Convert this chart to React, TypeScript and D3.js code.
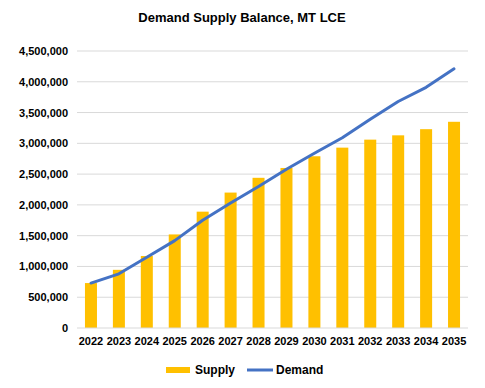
import React from 'react'
import * as d3 from 'd3'

const years = ['2022', '2023', '2024', '2025', '2026', '2027', '2028', '2029', '2030', '2031', '2032', '2033', '2034', '2035']
const supply = [730000, 945000, 1170000, 1520000, 1890000, 2200000, 2440000, 2600000, 2790000, 2930000, 3060000, 3130000, 3230000, 3350000]
const demand = [730000, 880000, 1150000, 1420000, 1750000, 2030000, 2300000, 2580000, 2840000, 3090000, 3390000, 3680000, 3910000, 4210000]
const yTicks = [0, 500000, 1000000, 1500000, 2000000, 2500000, 3000000, 3500000, 4000000, 4500000]

const width = 485
const height = 388
const margin = { top: 51, right: 17, bottom: 60, left: 77 }
const font = 'Liberation Sans, Arial, sans-serif'

const App: React.FunctionComponent = () => {
  const x = d3
    .scaleBand()
    .domain(years)
    .range([margin.left, width - margin.right])
    .paddingInner(0.57)
    .paddingOuter(0.285)

  const band = d3.scaleBand().domain(years).range([margin.left, width - margin.right])

  const y = d3
    .scaleLinear()
    .domain([0, 4500000])
    .range([height - margin.bottom, margin.top])

  const line = d3
    .line<number>()
    .x((d, i) => (band(years[i]) || 0) + band.bandwidth() / 2)
    .y(d => y(d))

  const fmt = d3.format(',')

  return (
    <svg
      width={width}
      height={height}
      style={{ position: 'absolute', left: 0, top: 0, background: '#fff' }}
      fontFamily={font}
    >
      <text x={242} y={22} textAnchor="middle" fontSize={13} fontWeight="bold" fill="#000">
        Demand Supply Balance, MT LCE
      </text>

      {yTicks.map(t => (
        <g key={t}>
          {t > 0 && (
            <line x1={margin.left} x2={width - margin.right} y1={y(t)} y2={y(t)} stroke="#d9d9d9" strokeWidth={1} />
          )}
          <text x={68} y={y(t) + 4} textAnchor="end" fontSize={11} fontWeight="bold" fill="#000">
            {fmt(t)}
          </text>
        </g>
      ))}

      {years.map((yr, i) => (
        <rect
          key={yr}
          x={x(yr)}
          y={y(supply[i])}
          width={x.bandwidth()}
          height={y(0) - y(supply[i])}
          fill="#ffc000"
        />
      ))}

      <line x1={margin.left} x2={width - margin.right} y1={y(0)} y2={y(0)} stroke="#d9d9d9" strokeWidth={1} />

      {years.map(yr => (
        <text
          key={yr}
          x={(band(yr) || 0) + band.bandwidth() / 2}
          y={345}
          textAnchor="middle"
          fontSize={11}
          fontWeight="bold"
          fill="#000"
        >
          {yr}
        </text>
      ))}

      <path d={line(demand) || ''} fill="none" stroke="#4472c4" strokeWidth={3} strokeLinejoin="round" strokeLinecap="round" />

      <g>
        <rect x={166} y={367} width={24} height={6} fill="#ffc000" />
        <text x={195} y={374} fontSize={12} fontWeight="bold" fill="#000">
          Supply
        </text>
        <line x1={247} x2={273} y1={370} y2={370} stroke="#4472c4" strokeWidth={3} />
        <text x={276} y={374} fontSize={12} fontWeight="bold" fill="#000">
          Demand
        </text>
      </g>
    </svg>
  )
}

export default App
